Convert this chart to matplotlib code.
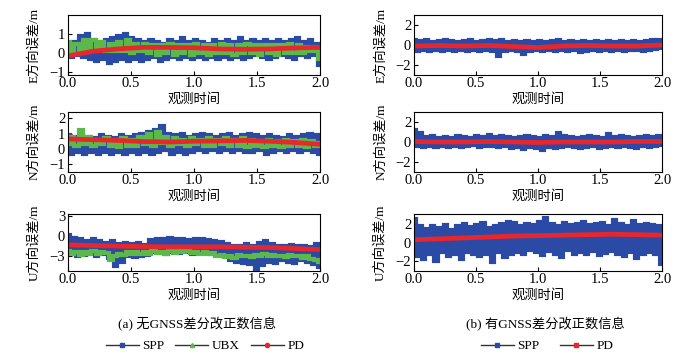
import numpy as np
import matplotlib
matplotlib.use("Agg")
import matplotlib.pyplot as plt
from matplotlib.lines import Line2D

plt.rcParams['font.family'] = ['Liberation Serif', 'Noto Sans CJK SC']
plt.rcParams['axes.unicode_minus'] = True

# ---------------- data ----------------
xticks = [0.0, 0.5, 1.0, 1.5, 2.0]

a_e_spp = [0.5,-0.2,0.6,-0.1,0.9,-0.2,1.0,-0.3,0.7,-0.4,0.6,-0.3,0.7,-0.5,0.8,-0.4,0.9,-0.3,1.0,-0.4,
           0.8,-0.3,0.7,-0.4,0.6,-0.3,0.7,-0.2,0.6,-0.4,0.5,-0.3,0.7,-0.2,0.6,-0.3,0.8,-0.2,0.6,-0.3,
           0.7,-0.2,0.6,-0.3,0.5,-0.2,0.7,-0.3,0.6,-0.2,0.7,-0.3,0.6,-0.2,0.8,-0.3,0.6,-0.2,0.7,-0.1,
           0.6,-0.2,0.7,-0.3,0.6,-0.2,0.7,-0.1,0.6,-0.2,0.7,-0.3,0.8,-0.1,0.6,-0.2,0.7,-0.1,0.5,-0.6]
a_e_ubx = [0.6,0.0,0.5,0.1,0.7,0.2,0.7,0.2,0.6,0.1,0.5,0.1,0.6,0.1,0.7,0.0,0.5,0.1,0.5,0.0,
           0.4,-0.1,0.4,0.0,0.5,-0.1,0.4,0.0,0.4,-0.1,0.5,0.0,0.4,-0.1,0.4,0.0,0.5,0.0,0.4,-0.1,
           0.4,0.0,0.5,0.0,0.4,-0.1,0.4,0.0,0.4,-0.1,0.4,0.0,0.5,0.0,0.4,0.0,0.3,0.1,0.3,-0.3]
a_e_pd = [-0.15,0.1,0.22,0.3,0.3,0.28,0.22,0.2,0.22,0.27,0.3]

a_n_spp = [0.9,-0.3,0.8,-0.2,0.9,-0.3,0.8,-0.2,0.7,-0.3,0.9,-0.2,0.8,-0.3,0.7,-0.2,0.9,-0.3,0.8,-0.2,
           0.9,-0.3,1.0,-0.2,1.1,-0.3,1.2,-0.2,1.5,-0.1,1.0,-0.3,0.9,-0.2,1.0,-0.3,0.8,-0.2,0.9,-0.1,
           1.0,-0.2,0.9,-0.1,0.8,-0.2,0.9,-0.1,1.0,-0.2,0.8,-0.1,0.9,-0.2,1.0,-0.2,0.9,-0.1,0.8,-0.3,
           0.9,-0.2,0.8,-0.1,0.7,-0.2,0.9,-0.1,0.8,-0.2,0.9,-0.1,1.0,-0.2,0.9,-0.3]
a_n_ubx = [0.3,0.8,0.2,1.2,0.3,0.8,0.2,0.6,0.3,0.7,0.2,0.6,0.1,0.7,0.2,0.6,0.2,0.8,0.3,1.0,
           0.2,1.1,0.4,0.8,0.2,0.7,0.3,0.6,0.2,0.7,0.3,0.6,0.2,0.7,0.2,0.6,0.3,0.7,0.2,0.6,
           0.2,0.7,0.1,0.6,0.2,0.5,0.1,0.6,0.2,0.5,0.1,0.6,0.2,0.5,0.2,0.6,0.1,0.5,0.2,0.4]
a_n_pd = [0.65,0.6,0.55,0.48,0.45,0.5,0.52,0.55,0.5,0.42,0.3]

a_u_spp = [0.2,-2.5,-0.3,-3.0,-0.5,-2.8,-0.7,-2.6,-0.5,-3.0,-0.8,-2.7,-1.0,-3.2,-0.8,-4.5,-1.2,-3.8,-1.0,-3.0,
           -1.2,-3.1,-1.0,-2.9,-1.3,-2.8,-0.6,-2.4,-0.4,-2.5,-0.5,-2.6,-0.3,-2.4,-0.5,-2.5,-0.4,-2.3,-0.6,-2.6,
           -0.5,-2.4,-0.4,-2.5,-0.6,-2.7,-0.8,-2.6,-0.9,-3.0,-1.2,-3.5,-1.5,-3.8,-1.4,-4.0,-1.2,-4.2,-1.5,-4.9,
           -1.0,-4.3,-0.8,-3.8,-1.2,-4.0,-1.4,-3.5,-1.5,-3.8,-1.3,-4.0,-1.5,-3.6,-1.4,-3.8,-1.6,-4.2,-1.2,-4.6]
a_u_ubx = [-2.2,-2.6,-2.3,-2.8,-2.4,-2.6,-2.2,-2.7,-2.3,-2.5,-3.6,-3.0,-2.6,-2.8,-2.4,-2.6,-2.3,-2.7,-2.4,-2.6,
           -2.2,-2.5,-2.3,-2.6,-2.2,-2.5,-2.1,-2.4,-2.2,-2.5,-2.3,-2.6,-2.4,-2.7,-2.5,-2.9,-2.8,-3.1,-2.9,-3.2,
           -2.8,-3.0,-2.9,-3.1,-2.8,-3.0,-2.7,-2.9,-2.8,-3.0,-2.9,-3.1,-2.8,-3.0,-2.9,-3.2,-3.0,-3.4,-3.6,-3.9]
a_u_pd = [-1.3,-1.4,-1.5,-1.55,-1.6,-1.6,-1.6,-1.65,-1.7,-1.85,-2.0]

b_e_spp = [0.5,-0.6,0.4,-0.5,0.5,-0.6,0.3,-0.5,0.4,-0.6,0.5,-0.5,0.4,-0.6,0.3,-0.5,0.4,-0.6,0.5,-0.5,
           0.3,-0.6,0.4,-0.5,0.5,-0.6,0.4,-1.1,0.5,-0.6,0.3,-0.5,0.4,-0.6,0.3,-0.9,0.4,-0.6,0.3,-0.5,
           0.4,-0.6,0.3,-0.5,0.4,-0.6,0.5,-0.5,0.3,-0.6,0.4,-0.5,0.3,-0.7,0.4,-0.6,0.3,-0.5,0.4,-0.6,
           0.3,-0.5,0.4,-0.6,0.3,-0.5,0.4,-0.6,0.3,-0.5,0.4,-0.5,0.3,-0.6,0.4,-0.5,0.5,-0.4,0.5,-0.3]
b_e_pd = [-0.1,-0.05,-0.1,-0.05,-0.15,-0.25,-0.1,-0.05,-0.1,-0.1,0.0]

b_n_spp = [1.2,-0.4,0.9,-0.5,0.5,-0.4,0.6,-0.5,0.4,-0.4,0.5,-0.5,0.4,-0.4,0.6,-0.5,0.5,-0.4,0.4,-0.3,
           0.6,-0.5,0.5,-0.4,0.7,-0.4,0.5,-0.5,0.6,-0.4,0.5,-0.6,0.4,-0.5,0.5,-0.7,0.6,-0.5,0.5,-0.6,
           0.4,-0.8,0.6,-0.5,0.5,-0.6,0.9,-0.5,0.6,-0.4,0.5,-0.5,0.4,-0.6,0.5,-0.5,0.6,-0.4,0.5,-0.6,
           0.4,-0.5,0.8,-0.4,0.5,-0.5,0.6,-0.4,0.5,-0.5,0.4,-0.6,0.5,-0.4,0.6,-0.5,0.5,-0.4,0.6,-0.3]
b_n_pd = [0.05,0.0,0.0,0.05,0.0,-0.05,0.0,0.0,0.0,0.05,0.05]

b_u_spp = [2.6,-1.5,1.8,-1.8,1.5,-1.2,1.8,-2.0,1.6,-1.0,1.9,-1.5,1.4,-1.2,1.8,-1.8,2.0,-1.0,1.7,-1.3,
           1.9,-1.5,2.1,-1.2,1.6,-2.1,1.8,-1.0,2.0,-1.6,2.2,-1.2,2.1,-1.0,1.8,-1.3,2.0,-0.8,1.9,-1.0,
           2.2,-1.4,2.7,-0.9,2.0,-1.2,1.8,-1.6,2.1,-0.8,1.9,-1.2,2.0,-1.0,2.2,-1.3,1.9,-0.9,2.0,-1.4,
           2.1,-1.1,1.8,-0.9,2.5,-1.2,2.0,-1.5,1.8,-1.0,2.3,-1.7,1.9,-1.2,2.0,-1.0,1.9,-1.3,1.8,-2.3]
b_u_pd = [0.3,0.4,0.5,0.6,0.7,0.75,0.8,0.85,0.9,0.85,0.8]

ylabels = ['E方向误差/m', 'N方向误差/m', 'U方向误差/m']
xlabel = '观测时间'
captions = ['(a) 无GNSS差分改正数信息', '(b) 有GNSS差分改正数信息']

# ---------------- style ----------------
BLUE = '#2b4aa6'
GREEN = '#5cb848'
RED = '#e8262b'

fig = plt.figure(figsize=(6.98, 3.56), dpi=100)
W, H = 698, 356

def axes_px(x0, x1, top, bot):
    return fig.add_axes([x0 / W, 1 - bot / H, (x1 - x0) / W, (bot - top) / H])

rows = [(15, 75), (112, 172), (214, 271)]
cols = [(68, 320), (414, 662)]

left_data = [(a_e_spp, a_e_ubx, a_e_pd, (-1.15, 2.0), [-1, 0, 1]),
             (a_n_spp, a_n_ubx, a_n_pd, (-1.5, 2.4), [-1, 0, 1, 2]),
             (a_u_spp, a_u_ubx, a_u_pd, (-5.2, 3.3), [-3, 0, 3])]
right_data = [(b_e_spp, None, b_e_pd, (-3, 3), [-2, 0, 2]),
              (b_n_spp, None, b_n_pd, (-3, 3), [-2, 0, 2]),
              (b_u_spp, None, b_u_pd, (-3.1, 3.1), [-2, 0, 2])]

for ci, data in enumerate([left_data, right_data]):
    for ri, (spp, ubx, pd, ylim, yt) in enumerate(data):
        ax = axes_px(cols[ci][0], cols[ci][1], rows[ri][0], rows[ri][1])
        ax.plot(np.linspace(0, 2, len(spp)), spp, color=BLUE, lw=3.0,
                drawstyle='steps-mid', solid_joinstyle='miter')
        if ubx is not None:
            ax.plot(np.linspace(0, 2, len(ubx)), ubx, color=GREEN, lw=3.0,
                    drawstyle='steps-mid', solid_joinstyle='miter')
        ax.plot(np.linspace(0, 2, len(pd)), pd, color=RED, lw=3.4)
        ax.set_xlim(0, 2.0)
        ax.set_ylim(*ylim)
        ax.set_xticks(xticks)
        ax.set_xticklabels([f'{t:.1f}' for t in xticks])
        ax.set_yticks(yt)
        ax.tick_params(direction='in', length=3, width=0.8, labelsize=10.5, pad=2)
        ax.tick_params(axis='x', pad=1.5)
        for s in ax.spines.values():
            s.set_linewidth(0.8)
        ax.set_ylabel(ylabels[ri], fontsize=9.5)
        ax.yaxis.set_label_coords(-0.11, 0.5)
        ax.set_xlabel(xlabel, fontsize=9.5, labelpad=2)

fig.text(197 / W, 1 - 324 / H, captions[0], ha='center', va='center', fontsize=9.5)
fig.text(545 / W, 1 - 324 / H, captions[1], ha='center', va='center', fontsize=9.5)

def handle(color, marker):
    return Line2D([], [], color='#333333', lw=1.0, marker=marker, ms=3,
                  markerfacecolor=color, markeredgecolor=color)

fig.legend([handle(BLUE, 's'), handle(GREEN, '^'), handle(RED, 'o')], ['SPP', 'UBX', 'PD'],
           loc='center', bbox_to_anchor=(205 / W, 1 - 346 / H), ncol=3, frameon=False,
           fontsize=9.5, handlelength=2.5, handletextpad=0.3, columnspacing=0.8)
fig.legend([handle(BLUE, 's'), handle(RED, 's')], ['SPP', 'PD'],
           loc='center', bbox_to_anchor=(547 / W, 1 - 346 / H), ncol=2, frameon=False,
           fontsize=9.5, handlelength=2.5, handletextpad=0.3, columnspacing=1.5)

fig.savefig('out.png', dpi=100)
